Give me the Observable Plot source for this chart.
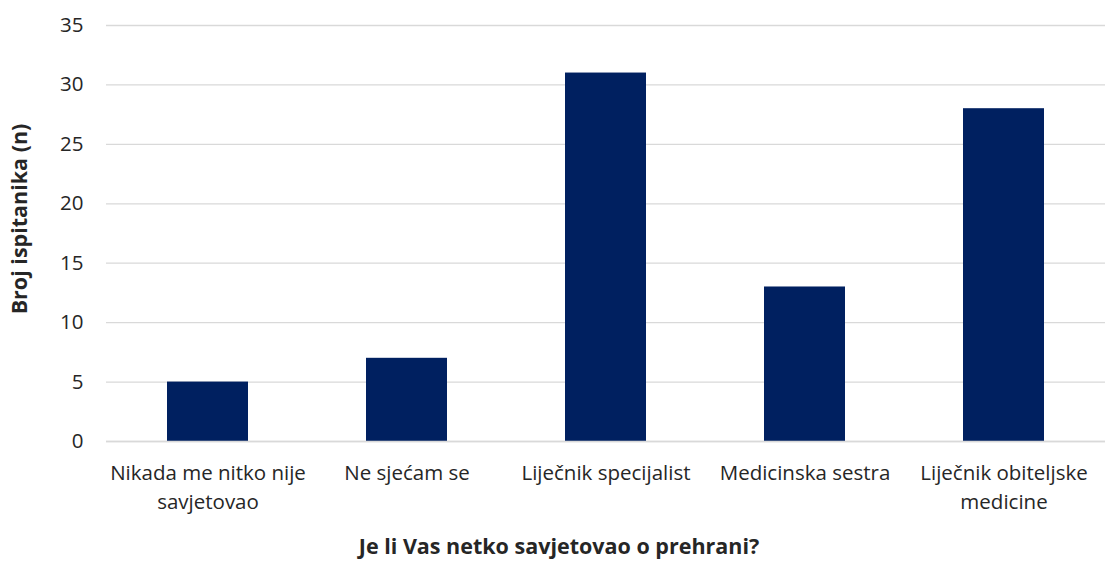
<!DOCTYPE html>
<html>
<head>
<meta charset="utf-8">
<script src="https://cdn.jsdelivr.net/npm/d3@7"></script>
<script src="https://cdn.jsdelivr.net/npm/@observablehq/plot@0.6"></script>
<style>
  html, body { margin: 0; padding: 0; background: #fff; }
  #chart svg { display: block; }
</style>
</head>
<body>
<div id="chart"></div>
<script>
const categories = [
  "Nikada me nitko nije\nsavjetovao",
  "Ne sjećam se",
  "Liječnik specijalist",
  "Medicinska sestra",
  "Liječnik obiteljske\nmedicine"
];
const values = [5, 7, 31, 13, 28];
const yTicks = [0, 5, 10, 15, 20, 25, 30, 35];
const xTitle = "Je li Vas netko savjetovao o prehrani?";
const yTitle = "Broj ispitanika (n)";

const data = categories.map((c, i) => ({category: c, value: values[i]}));

const chart = Plot.plot({
  width: 1113,
  height: 561,
  marginLeft: 106,
  marginRight: 8,
  marginTop: 25,
  marginBottom: 120,
  style: {fontFamily: "'Open Sans', sans-serif", fontSize: "20px", color: "#262626"},
  x: {domain: categories, paddingInner: 0.595, paddingOuter: 0.2975, align: 0.5},
  y: {domain: [0, 35]},
  marks: [
    Plot.gridY(yTicks, {stroke: "#d9d9d9", strokeOpacity: 1, strokeWidth: 1.3}),
    Plot.barY(data, {x: "category", y: "value", fill: "#002060"}),
    Plot.ruleY([0], {stroke: "#d9d9d9", strokeWidth: 1.3}),
    Plot.axisY(yTicks, {tickSize: 0, tickPadding: 23, label: null, fontSize: 20.5, fill: "#262626"}),
    Plot.axisX({tickSize: 0, tickPadding: 18, label: null, fontSize: 20.5, lineHeight: 1.42, fill: "#262626"}),
    Plot.text([xTitle], {frameAnchor: "bottom", dx: -47, dy: 112, fontWeight: "bold", fontSize: 21.5, fill: "#262626"}),
    Plot.text([yTitle], {frameAnchor: "left", textAnchor: "middle", dx: -86, dy: -14.5, rotate: -90, fontWeight: "bold", fontSize: 21.5, fill: "#262626"})
  ]
});
document.getElementById("chart").appendChild(chart);
</script>
</body>
</html>
